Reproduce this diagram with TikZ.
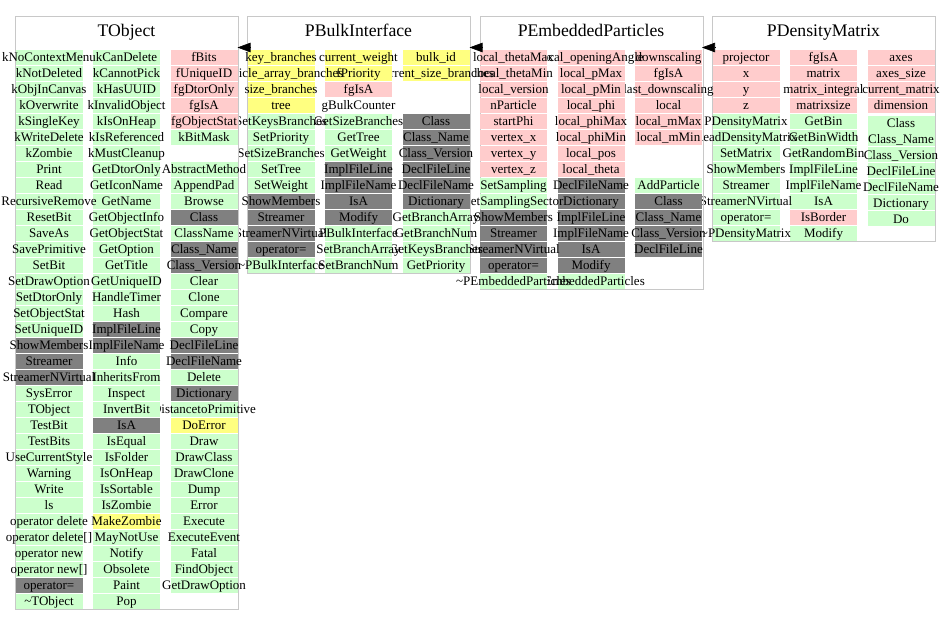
\documentclass[tikz,border=0pt]{standalone}
\usepackage{fontspec}
\setmainfont{Liberation Serif}
\usetikzlibrary{arrows.meta}
\definecolor{cgreen}{HTML}{CCFFCC}
\definecolor{cpink}{HTML}{FFCCCC}
\definecolor{cyel}{HTML}{FFFF80}
\definecolor{cdark}{HTML}{808080}
\definecolor{cframe}{HTML}{C8C8C8}
\newcount\cellno
\newcommand\cellrows[4]{%
  \foreach \st/\tx [count=\k from 0] in {#4} {%
    \pgfmathsetmacro\yy{#2+#3*\k}%
    \global\advance\cellno by 1
    \node[\st] (cell\the\cellno) at (#1,\yy) {\makebox[0pt]{\tx}};
  }%
}
\tikzset{
  cellbase/.style={inner sep=0pt, minimum width=67pt, minimum height=15pt,
    text height=11pt, text depth=2.4pt, font=\fontsize{13}{15}\selectfont},
  cg/.style={cellbase, fill=cgreen},
  cp/.style={cellbase, fill=cpink},
  cy/.style={cellbase, fill=cyel},
  cd/.style={cellbase, fill=cdark},
  cw/.style={cellbase},
  classframe/.style={draw=cframe, line width=1.3pt, inner sep=0pt,
    minimum width=223pt, anchor=north west},
  classtitle/.style={font=\fontsize{17.7}{20}\selectfont, anchor=base, inner sep=0pt},
  inh/.style={-{Triangle[length=13pt,width=9.5pt]}, line width=0.6pt}
}
\begin{document}
\begin{tikzpicture}[x=1pt,y=-1pt]
\useasboundingbox (0,0) rectangle (949,624);
\fill[white] (0,0) rectangle (949,624);

% ---------------- PDensityMatrix (L=712)
\node[classframe, minimum height=224.8pt] (pdF) at (712,16) {};
\node[classtitle] (pdT) at (823.5,36) {PDensityMatrix};
\cellrows{901}{57.3}{16}{cp/axes, cp/axes\_size, cp/current\_matrix, cp/dimension}
\cellrows{901}{123}{15.95}{cg/Class, cg/Class\_Name, cg/Class\_Version, cg/DeclFileLine, cg/DeclFileName, cg/Dictionary, cg/Do}
\cellrows{823.5}{57.3}{16}{cp/fgIsA, cp/matrix, cp/matrix\_integral, cp/matrixsize, cg/GetBin, cg/GetBinWidth, cg/GetRandomBin, cg/ImplFileLine, cg/ImplFileName, cg/IsA, cp/IsBorder, cg/Modify}
\cellrows{746}{57.3}{16}{cp/projector, cp/x, cp/y, cp/z, cg/PDensityMatrix, cg/ReadDensityMatrix, cg/SetMatrix, cg/ShowMembers, cg/Streamer, cg/StreamerNVirtual, cg/operator=, cg/\textasciitilde PDensityMatrix}

% ---------------- PEmbeddedParticles (L=479.5)
\node[classframe, minimum height=272.8pt] (peF) at (479.5,16) {};
\node[classtitle] (peT) at (591,36) {PEmbeddedParticles};
\cellrows{668.5}{57.3}{16}{cp/downscaling, cp/fgIsA, cp/last\_downscaling, cp/local, cp/local\_mMax, cp/local\_mMin}
\cellrows{668.5}{185.3}{16}{cg/AddParticle, cd/Class, cd/Class\_Name, cd/Class\_Version, cd/DeclFileLine}
\cellrows{591}{57.3}{16}{cp/local\_openingAngle, cp/local\_pMax, cp/local\_pMin, cp/local\_phi, cp/local\_phiMax, cp/local\_phiMin, cp/local\_pos, cp/local\_theta, cd/DeclFileName, cd/Dictionary, cd/ImplFileLine, cd/ImplFileName, cd/IsA, cd/Modify, cg/PEmbeddedParticles}
\cellrows{513.5}{57.3}{16}{cp/local\_thetaMax, cp/local\_thetaMin, cp/local\_version, cp/nParticle, cp/startPhi, cp/vertex\_x, cp/vertex\_y, cp/vertex\_z, cg/SetSampling, cg/SetSamplingSector, cd/ShowMembers, cd/Streamer, cd/StreamerNVirtual, cd/operator=, cg/\textasciitilde PEmbeddedParticles}

% ---------------- PBulkInterface (L=247)
\node[classframe, minimum height=256.8pt] (pbF) at (247,16) {};
\node[classtitle] (pbT) at (358.5,36) {PBulkInterface};
\cellrows{436}{57.3}{16}{cy/bulk\_id, cy/current\_size\_branches}
\cellrows{436}{121.3}{16}{cd/Class, cd/Class\_Name, cd/Class\_Version, cd/DeclFileLine, cd/DeclFileName, cd/Dictionary, cg/GetBranchArray, cg/GetBranchNum, cg/GetKeysBranches, cg/GetPriority}
\cellrows{358.5}{57.3}{16}{cy/current\_weight, cy/fPriority, cp/fgIsA, cw/gBulkCounter, cg/GetSizeBranches, cg/GetTree, cg/GetWeight, cd/ImplFileLine, cd/ImplFileName, cd/IsA, cd/Modify, cg/PBulkInterface, cg/SetBranchArray, cg/SetBranchNum}
\cellrows{281}{57.3}{16}{cy/key\_branches, cy/particle\_array\_branches, cy/size\_branches, cy/tree, cg/SetKeysBranches, cg/SetPriority, cg/SetSizeBranches, cg/SetTree, cg/SetWeight, cd/ShowMembers, cd/Streamer, cd/StreamerNVirtual, cd/operator=, cg/\textasciitilde PBulkInterface}

% ---------------- TObject (L=15)
\node[classframe, minimum height=592.8pt] (toF) at (15,16) {};
\node[classtitle] (toT) at (126.5,36) {TObject};
\cellrows{204}{57.3}{16}{cp/fBits, cp/fUniqueID, cp/fgDtorOnly, cp/fgIsA, cp/fgObjectStat, cg/kBitMask}
\cellrows{204}{169.3}{16}{cg/AbstractMethod, cg/AppendPad, cg/Browse, cd/Class, cg/ClassName, cd/Class\_Name, cd/Class\_Version, cg/Clear, cg/Clone, cg/Compare, cg/Copy, cd/DeclFileLine, cd/DeclFileName, cg/Delete, cd/Dictionary, cg/DistancetoPrimitive, cy/DoError, cg/Draw, cg/DrawClass, cg/DrawClone, cg/Dump, cg/Error, cg/Execute, cg/ExecuteEvent, cg/Fatal, cg/FindObject, cg/GetDrawOption}
\cellrows{126.5}{57.3}{16}{cg/kCanDelete, cg/kCannotPick, cg/kHasUUID, cg/kInvalidObject, cg/kIsOnHeap, cg/kIsReferenced, cg/kMustCleanup, cg/GetDtorOnly, cg/GetIconName, cg/GetName, cg/GetObjectInfo, cg/GetObjectStat, cg/GetOption, cg/GetTitle, cg/GetUniqueID, cg/HandleTimer, cg/Hash, cd/ImplFileLine, cd/ImplFileName, cg/Info, cg/InheritsFrom, cg/Inspect, cg/InvertBit, cd/IsA, cg/IsEqual, cg/IsFolder, cg/IsOnHeap, cg/IsSortable, cg/IsZombie, cy/MakeZombie, cg/MayNotUse, cg/Notify, cg/Obsolete, cg/Paint, cg/Pop}
\cellrows{49}{57.3}{16}{cg/kNoContextMenu, cg/kNotDeleted, cg/kObjInCanvas, cg/kOverwrite, cg/kSingleKey, cg/kWriteDelete, cg/kZombie, cg/Print, cg/Read, cg/RecursiveRemove, cg/ResetBit, cg/SaveAs, cg/SavePrimitive, cg/SetBit, cg/SetDrawOption, cg/SetDtorOnly, cg/SetObjectStat, cg/SetUniqueID, cd/ShowMembers, cd/Streamer, cd/StreamerNVirtual, cg/SysError, cg/TObject, cg/TestBit, cg/TestBits, cg/UseCurrentStyle, cg/Warning, cg/Write, cg/ls, cg/{operator delete}, cg/{operator delete[]}, cg/{operator new}, cg/{operator new[]}, cd/operator=, cg/\textasciitilde TObject}

% ---------------- inheritance arrows
\coordinate (toR) at (237.5,47.5);
\coordinate (pbA) at (250.5,47.5);
\coordinate (pbR) at (469.5,47.5);
\coordinate (peA) at (482.5,47.5);
\coordinate (peR) at (702,47.5);
\coordinate (pdA) at (715,47.5);
\draw[inh] (pbA) -- (toR);
\draw[inh] (peA) -- (pbR);
\draw[inh] (pdA) -- (peR);
\end{tikzpicture}
\end{document}
